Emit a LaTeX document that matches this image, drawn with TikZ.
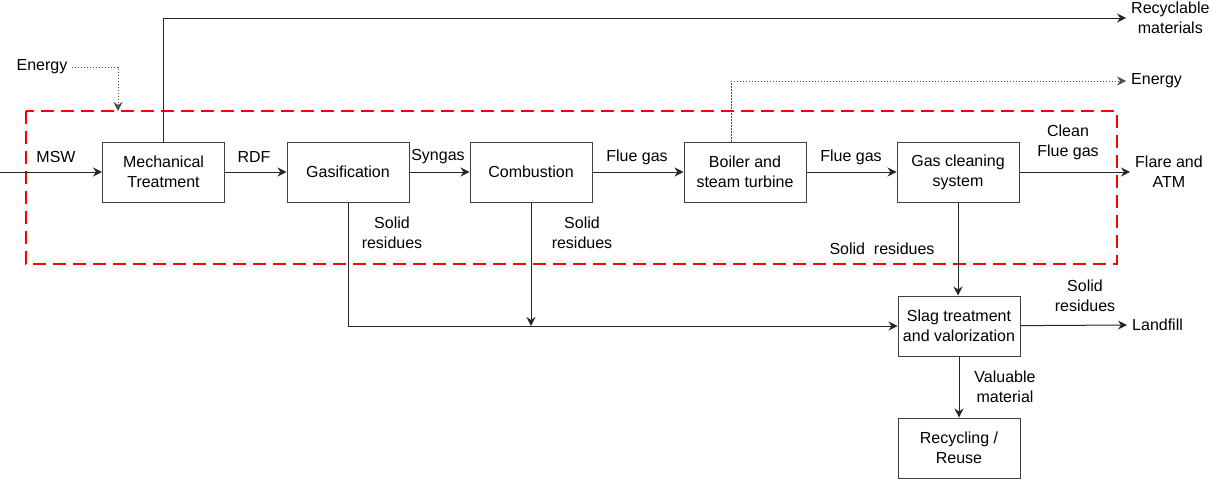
\documentclass[tikz,border=0pt]{standalone}
\usepackage{fontspec}
\setmainfont{Liberation Sans}
\usetikzlibrary{arrows.meta}
\begin{document}
\begin{tikzpicture}[x=1pt,y=-1pt,
  txt/.style={font=\fontsize{16}{20}\selectfont},
  box/.style={txt,draw=black!75,line width=1pt,minimum width=122pt,minimum height=60pt,inner sep=0pt,align=center},
  lbl/.style={txt,align=center,inner sep=0pt},
  endlbl/.style={txt,align=center,inner ysep=0pt,inner xsep=5pt},
  flow/.style={line width=1pt,black!85,-{Stealth[length=9pt,width=9pt,inset=3pt]}},
  dotflow/.style={line width=1pt,black!70,dash pattern=on 1.5pt off 1.5pt,-{Stealth[length=9pt,width=9pt,inset=3pt]}},
  reddash/.style={draw=red,line width=1.1pt,dash pattern=on 13pt off 7pt}
]
\useasboundingbox (0,0) rectangle (1212,479);

% system boundary
\draw[reddash] (26,111) rectangle (1117,264);

% boxes
\node[box] (mech) at (163.5,172) {Mechanical\\Treatment};
\node[box] (gas) at (348,172) {Gasification};
\node[box] (comb) at (531,172) {Combustion};
\node[box] (boil) at (745,172) {Boiler and\\steam turbine};
\node[box] (clean) at (958,172) {Gas cleaning\\system};
\node[box] (slag) at (959,326) {Slag treatment\\and valorization};
\node[box] (recy) at (959,448) {Recycling /\\Reuse};

% end labels
\node[endlbl,anchor=west] (recmat) at (1126,18) {Recyclable\\materials};
\node[endlbl,anchor=west] (enout) at (1126,81) {Energy};
\node[endlbl,anchor=west] (flare) at (1130,172) {Flare and\\ATM};
\node[endlbl,anchor=west] (landfill) at (1127,325) {Landfill};
\node[lbl] (enin) at (42,67) {Energy};

% coordinates
\coordinate (msw0) at (0,172);
\coordinate (ein2) at (118,111);
\coordinate (etap) at (731,80);
\coordinate (rtop) at (163,18);

% main flow
\draw[flow] (msw0) -- (mech.west);
\draw[flow] (mech) -- (gas);
\draw[flow] (gas) -- (comb);
\draw[flow] (comb) -- (boil);
\draw[flow] (boil) -- (clean);
\draw[flow] (clean) -- (flare.west);

% recyclable
\draw[flow] (mech.north -| rtop) |- (recmat.west);

% energy
\draw[dotflow] (enin.east) ++(4,0) -| (ein2);
\draw[dotflow] (boil.north -| etap) |- (enout.west);

% solid residues
\draw[flow] (gas.south) |- (slag.west);
\draw[flow] (comb.south) -- (comb.south |- slag.west);
\draw[flow] (clean.south) -- (clean.south |- slag.north);
\draw[flow] (slag) -- (landfill.west);
\draw[flow] (slag) -- (recy);

% labels
\node[lbl] (lmsw) at (56,157) {MSW};
\node[lbl] (lrdf) at (254,157) {RDF};
\node[lbl] (lsyn) at (438,157) {Syngas};
\node[lbl] (lflue1) at (637,157) {Flue gas};
\node[lbl] (lflue2) at (851,157) {Flue gas};
\node[lbl] (lclean) at (1068,142) {Clean\\Flue gas};
\node[lbl] (lsr1) at (392,233) {Solid\\residues};
\node[lbl] (lsr2) at (582,233) {Solid\\residues};
\node[lbl] (lsr3) at (882,249) {Solid\ \ residues};
\node[lbl] (lsr4) at (1085,296) {Solid\\residues};
\node[lbl] (lval) at (1005,387) {Valuable\\material};
\end{tikzpicture}
\end{document}
